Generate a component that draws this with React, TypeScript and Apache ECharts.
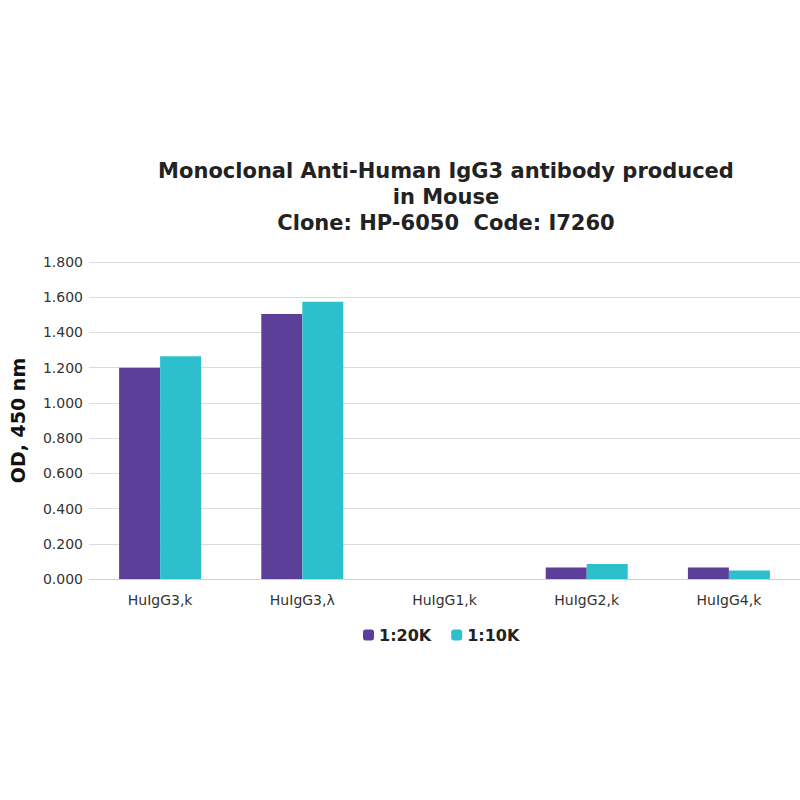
import React, { useEffect, useRef } from "react";
import * as echarts from "echarts";

const categories = ["HuIgG3,k", "HuIgG3,λ", "HuIgG1,k", "HuIgG2,k", "HuIgG4,k"];
const dil20K = [1.2, 1.505, 0, 0.065, 0.065];
const dil10K = [1.265, 1.575, 0, 0.085, 0.048];

const App = () => {
  const chartRef = useRef(null);

  useEffect(() => {
    document.body.style.margin = "0";
    if (!chartRef.current) return;
    const chart = echarts.init(chartRef.current, null, { renderer: "svg" });
    chart.setOption({
      animation: false,
      textStyle: { fontFamily: "DejaVu Sans, sans-serif" },
      title: {
        text: "Monoclonal Anti-Human IgG3 antibody produced\nin Mouse\nClone: HP-6050  Code: I7260",
        left: 441,
        textAlign: "center",
        top: 153,
        textStyle: { fontSize: 21, fontWeight: "bold", color: "#222", lineHeight: 26, fontFamily: "DejaVu Sans" },
      },
      legend: {
        data: ["1:20K", "1:10K"],
        left: 358,
        top: 622,
        itemWidth: 11,
        itemHeight: 11,
        itemGap: 20,
        textStyle: { fontSize: 16, fontWeight: "bold", color: "#222", fontFamily: "DejaVu Sans" },
      },
      grid: { left: 77, right: -7, top: 262, bottom: 221 },
      xAxis: {
        type: "category",
        data: categories,
        axisLine: { lineStyle: { color: "#cfcfd8" } },
        axisTick: { show: false },
        axisLabel: { color: "#333", fontSize: 14, margin: 14 },
      },
      yAxis: {
        type: "value",
        min: 0,
        max: 1.8,
        interval: 0.2,
        name: "OD, 450 nm",
        nameLocation: "middle",
        nameGap: 62,
        nameTextStyle: { fontSize: 19, fontWeight: "bold", color: "#111", fontFamily: "DejaVu Sans" },
        axisLabel: { color: "#333", fontSize: 14, margin: 6, formatter: (v: number) => v.toFixed(3) },
        splitLine: { lineStyle: { color: "#dcdce0" } },
      },
      series: [
        { name: "1:20K", type: "bar", data: dil20K, barWidth: 41, barGap: "0%", itemStyle: { color: "#5b3f98" } },
        { name: "1:10K", type: "bar", data: dil10K, barWidth: 41, barGap: "0%", itemStyle: { color: "#2ebfcc" } },
      ],
    });
    return () => chart.dispose();
  }, []);

  return <div ref={chartRef} style={{ width: "800px", height: "800px" }} />;
};

export default App;
